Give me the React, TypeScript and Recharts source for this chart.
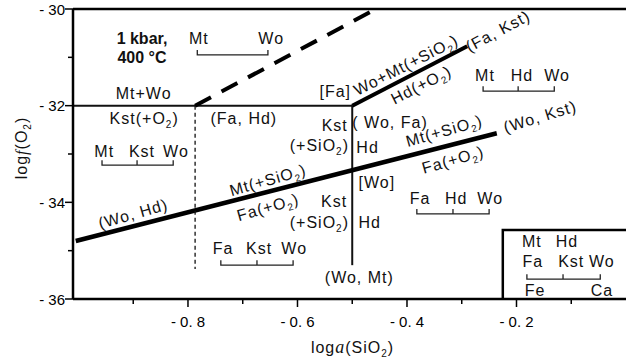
import React from 'react';
import { LineChart, Line, XAxis, YAxis, ReferenceLine, ReferenceDot, Label } from 'recharts';

// axes: x = log a(SiO2), y = log f(O2)
const xTicks = [-0.9, -0.8, -0.7, -0.6, -0.5, -0.4, -0.3, -0.2, -0.1];
const yTicks = [-36, -35, -34, -33, -32, -31, -30];

// phase boundaries
const mtWoKstLine = [{ x: -1.01, y: -32 }, { x: -0.5, y: -32 }];
const woMtLine = [{ x: -0.5, y: -32 }, { x: -0.5, y: -35.3 }];
const faKstLine = [{ x: -0.5, y: -32 }, { x: -0.29, y: -30.77 }];
const faHdLine = [{ x: -0.787, y: -32 }, { x: -0.46, y: -30.02 }];
const woHdLine = [{ x: -1.005, y: -34.8 }, { x: -0.236, y: -32.57 }];
const quartzLine = [{ x: -0.787, y: -32 }, { x: -0.787, y: -35.38 }];
const insetBox = [{ x: -0.225, y: -36 }, { x: -0.225, y: -34.57 }, { x: 0, y: -34.57 }];

// text annotations, in data coordinates ( _2 = subscript 2 )
const notes = [
  { t: '1 kbar,', x: -0.884, y: -30.61, b: true },
  { t: '400 °C', x: -0.884, y: -31.0, b: true },
  { t: 'Mt', x: -0.78, y: -30.62 },
  { t: 'Wo', x: -0.648, y: -30.62 },
  { t: 'Mt+Wo', x: -0.881, y: -31.74 },
  { t: 'Kst(+O_2)', x: -0.88, y: -32.26 },
  { t: '(Fa, Hd)', x: -0.698, y: -32.26 },
  { t: 'Mt', x: -0.953, y: -32.94 },
  { t: 'Kst', x: -0.884, y: -32.94 },
  { t: 'Wo', x: -0.822, y: -32.94 },
  { t: '[Fa]', x: -0.531, y: -31.7 },
  { t: 'Wo+Mt(+SiO_2)', x: -0.402, y: -31.16, a: -27 },
  { t: '(Fa, Kst)', x: -0.234, y: -30.46, a: -28 },
  { t: 'Hd(+O_2)', x: -0.374, y: -31.57, a: -27 },
  { t: 'Mt', x: -0.2575, y: -31.37 },
  { t: 'Hd', x: -0.19, y: -31.37 },
  { t: 'Wo', x: -0.126, y: -31.37 },
  { t: '(Wo, Kst)', x: -0.157, y: -32.23, a: -17 },
  { t: 'Kst', x: -0.532, y: -32.42 },
  { t: '(+SiO_2)', x: -0.56, y: -32.83 },
  { t: '( Wo, Fa)', x: -0.431, y: -32.34 },
  { t: 'Hd', x: -0.472, y: -32.86 },
  { t: 'Mt(+SiO_2)', x: -0.332, y: -32.52, a: -16 },
  { t: 'Fa(+O_2)', x: -0.316, y: -33.12, a: -16 },
  { t: '[Wo]', x: -0.455, y: -33.58 },
  { t: 'Kst', x: -0.533, y: -33.99 },
  { t: '(+SiO_2)', x: -0.56, y: -34.41 },
  { t: 'Hd', x: -0.468, y: -34.41 },
  { t: 'Fa', x: -0.376, y: -33.93 },
  { t: 'Hd', x: -0.31, y: -33.93 },
  { t: 'Wo', x: -0.248, y: -33.93 },
  { t: '(Wo, Mt)', x: -0.487, y: -35.55 },
  { t: 'Mt(+SiO_2)', x: -0.654, y: -33.54, a: -16 },
  { t: 'Fa(+O_2)', x: -0.654, y: -34.1, a: -16 },
  { t: '(Wo, Hd)', x: -0.9, y: -34.24, a: -16 },
  { t: 'Fa', x: -0.736, y: -34.95 },
  { t: 'Kst', x: -0.67, y: -34.95 },
  { t: 'Wo', x: -0.606, y: -34.95 },
  { t: 'Mt', x: -0.172, y: -34.82 },
  { t: 'Hd', x: -0.108, y: -34.82 },
  { t: 'Fa', x: -0.17, y: -35.23 },
  { t: 'Kst', x: -0.1, y: -35.23 },
  { t: 'Wo', x: -0.044, y: -35.23 },
  { t: 'Fe', x: -0.166, y: -35.83 },
  { t: 'Ca', x: -0.044, y: -35.83 },
];

// composition bars under the assemblage labels
const brackets = [
  { x1: -0.783, x2: -0.654, y: -30.95 },
  { x1: -0.957, xm: -0.893, x2: -0.827, y: -33.23 },
  { x1: -0.261, xm: -0.197, x2: -0.131, y: -31.7 },
  { x1: -0.382, xm: -0.316, x2: -0.25, y: -34.24 },
  { x1: -0.74, xm: -0.674, x2: -0.608, y: -35.3 },
  { x1: -0.181, xm: -0.115, x2: -0.047, y: -35.59 },
];

const FONT = '"Liberation Sans", Arial, Helvetica, sans-serif';
const TICK_H = 0.1;

const bracketPoints = (b: { x1: number; x2: number; xm?: number; y: number }) => {
  const pts = [{ x: b.x1, y: b.y + TICK_H }, { x: b.x1, y: b.y }];
  if (b.xm !== undefined) {
    pts.push({ x: b.xm, y: b.y }, { x: b.xm, y: b.y + TICK_H }, { x: b.xm, y: b.y });
  }
  pts.push({ x: b.x2, y: b.y }, { x: b.x2, y: b.y + TICK_H });
  return pts;
};

const sub = (s: string) => {
  const parts = s.split('_2');
  const out: React.ReactNode[] = [];
  parts.forEach((p, i) => {
    if (i > 0) {
      out.push(
        <tspan key={'s' + i} fontSize={10} dy={4}>
          2
        </tspan>
      );
    }
    out.push(
      <tspan key={'p' + i} dy={i > 0 ? -4 : undefined}>
        {p}
      </tspan>
    );
  });
  return out;
};

const noteShape = (n: { t: string; a?: number; b?: boolean }) => (props: any) => {
  const { cx, cy } = props;
  return (
    <text
      x={cx}
      y={cy + 5.5}
      transform={n.a ? `rotate(${n.a} ${cx} ${cy})` : undefined}
      textAnchor="middle"
      fontFamily={FONT}
      fontSize={16}
      fontWeight={n.b ? 'bold' : 'normal'}
      letterSpacing={n.b ? 0 : 1}
      fill="#111"
    >
      {sub(n.t)}
    </text>
  );
};

const fmt = (v: number, digits: number) => v.toFixed(digits).replace('-', '- ').replace('.', '. ');

const XTick = (props: any) => {
  const { x, y, payload } = props;
  const major = Math.round(payload.value * 10) % 2 === 0;
  return (
    <g>
      <line x1={x} x2={x} y1={y} y2={y + (major ? 8 : 5)} stroke="#000" strokeWidth={1.5} />
      {major && (
        <text x={x} y={y + 28} textAnchor="middle" fontFamily={FONT} fontSize={15} fill="#000">
          {fmt(payload.value, 1)}
        </text>
      )}
    </g>
  );
};

const YTick = (props: any) => {
  const { x, y, payload } = props;
  const major = payload.value % 2 === 0;
  return (
    <g>
      <line x1={x - (major ? 8 : 5)} x2={x} y1={y} y2={y} stroke="#000" strokeWidth={1.5} />
      {major && (
        <text x={x - 8} y={y + 5.5} textAnchor="end" fontFamily={FONT} fontSize={15} fill="#000">
          {fmt(payload.value, 0)}
        </text>
      )}
    </g>
  );
};

const YTitle = (props: any) => {
  const vb = props.viewBox;
  const cx = vb.x + 21;
  const cy = vb.y + vb.height / 2 - 6;
  return (
    <text
      x={cx}
      y={cy + 5.5}
      transform={`rotate(-90 ${cx} ${cy})`}
      textAnchor="middle"
      fontFamily={FONT}
      fontSize={16}
      letterSpacing={1}
      fill="#111"
    >
      log
      <tspan fontFamily="'Liberation Serif', 'Times New Roman', serif" fontStyle="italic">
        f
      </tspan>
      (O
      <tspan fontSize={10} dy={4}>
        2
      </tspan>
      <tspan dy={-4}>)</tspan>
    </text>
  );
};

const XTitle = (props: any) => {
  const vb = props.viewBox;
  const cx = vb.x + vb.width / 2 + 3;
  const cy = vb.y + 48;
  return (
    <text x={cx} y={cy + 5.5} textAnchor="middle" fontFamily={FONT} fontSize={16} letterSpacing={1} fill="#111">
      log
      <tspan fontFamily="'Liberation Serif', 'Times New Roman', serif" fontStyle="italic" fontSize={18}>
        a
      </tspan>
      (SiO
      <tspan fontSize={10} dy={4}>
        2
      </tspan>
      <tspan dy={-4}>)</tspan>
    </text>
  );
};

const App = () => {
  return (
    <div style={{ position: 'absolute', left: 0, top: 0, width: 626, height: 360, background: '#fff' }}>
      <LineChart width={626} height={360} margin={{ top: 9, right: 0, bottom: 21, left: 0 }}>
        <XAxis
          dataKey="x"
          type="number"
          domain={[-1.01, 0]}
          ticks={xTicks}
          tick={<XTick />}
          tickLine={false}
          tickSize={0}
          tickMargin={0}
          height={40}
          allowDataOverflow
          axisLine={{ stroke: '#000', strokeWidth: 2.5 }}
        >
          <Label content={<XTitle />} />
        </XAxis>
        <YAxis
          dataKey="y"
          type="number"
          domain={[-36, -30]}
          ticks={yTicks}
          tick={<YTick />}
          tickLine={false}
          tickSize={0}
          tickMargin={0}
          width={73}
          allowDataOverflow
          axisLine={{ stroke: '#000', strokeWidth: 2.5 }}
        >
          <Label content={<YTitle />} />
        </YAxis>
        <ReferenceLine y={-30} stroke="#000" strokeWidth={2.5} />

        <Line data={mtWoKstLine} dataKey="y" stroke="#111" strokeWidth={2} dot={false} isAnimationActive={false} />
        <Line data={woMtLine} dataKey="y" stroke="#111" strokeWidth={2} dot={false} isAnimationActive={false} />
        <Line data={faKstLine} dataKey="y" stroke="#000" strokeWidth={4} dot={false} isAnimationActive={false} />
        <Line
          data={faHdLine}
          dataKey="y"
          stroke="#000"
          strokeWidth={4}
          strokeDasharray="18 12"
          dot={false}
          isAnimationActive={false}
        />
        <Line data={woHdLine} dataKey="y" stroke="#000" strokeWidth={4.5} dot={false} isAnimationActive={false} />
        <Line
          data={quartzLine}
          dataKey="y"
          stroke="#111"
          strokeWidth={1.3}
          strokeDasharray="4 3"
          dot={false}
          isAnimationActive={false}
        />
        <Line data={insetBox} dataKey="y" stroke="#000" strokeWidth={2.5} dot={false} isAnimationActive={false} />
        {brackets.map((b, i) => (
          <Line
            key={'br' + i}
            data={bracketPoints(b)}
            dataKey="y"
            stroke="#222"
            strokeWidth={1.3}
            dot={false}
            isAnimationActive={false}
          />
        ))}
        {notes.map((n, i) => (
          <ReferenceDot key={'n' + i} x={n.x} y={n.y} r={0} shape={noteShape(n)} ifOverflow="visible" />
        ))}
      </LineChart>
    </div>
  );
};

export default App;
